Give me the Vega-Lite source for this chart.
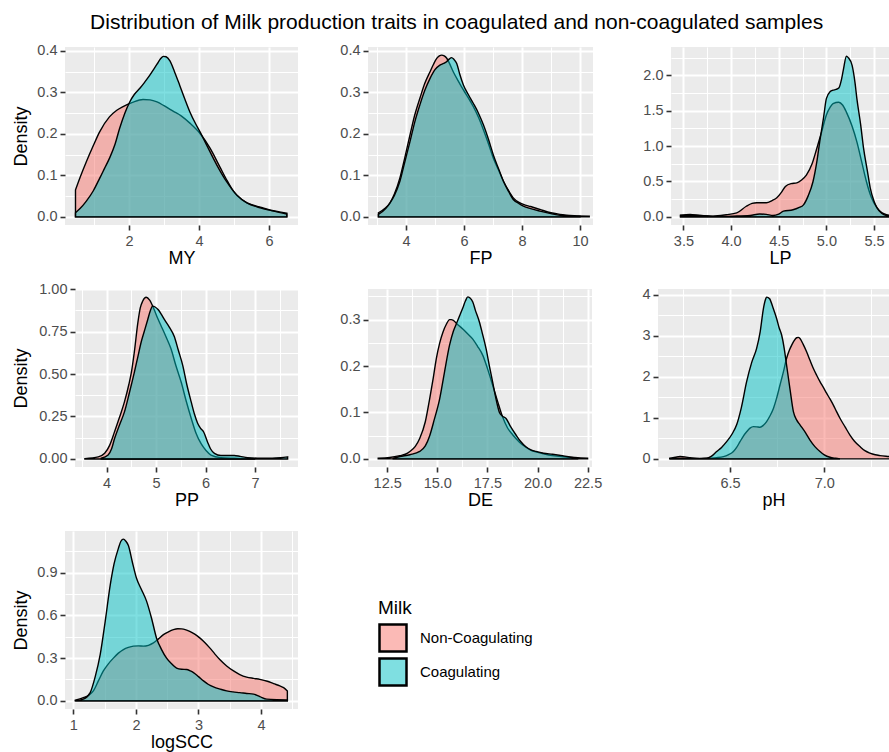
{
  "$schema": "https://vega.github.io/schema/vega-lite/v6.json",
  "padding": {"left": 12, "top": 11, "right": 0, "bottom": 0},
  "title": {"text": "Distribution of Milk production traits in coagulated and non-coagulated samples", "dx": 6},
  "datasets": {
    "dens": [
      {"trait":"MY","milk":"Non-Coagulating","x":0.47,"y":0.065},{"trait":"MY","milk":"Non-Coagulating","x":0.6,"y":0.095},{"trait":"MY","milk":"Non-Coagulating","x":0.78,"y":0.133},{"trait":"MY","milk":"Non-Coagulating","x":0.98,"y":0.172},{"trait":"MY","milk":"Non-Coagulating","x":1.16,"y":0.205},{"trait":"MY","milk":"Non-Coagulating","x":1.44,"y":0.241},{"trait":"MY","milk":"Non-Coagulating","x":1.65,"y":0.257},{"trait":"MY","milk":"Non-Coagulating","x":1.83,"y":0.266},{"trait":"MY","milk":"Non-Coagulating","x":2.1,"y":0.276},{"trait":"MY","milk":"Non-Coagulating","x":2.4,"y":0.283},{"trait":"MY","milk":"Non-Coagulating","x":2.6,"y":0.282},{"trait":"MY","milk":"Non-Coagulating","x":2.8,"y":0.277},{"trait":"MY","milk":"Non-Coagulating","x":3.0,"y":0.268},{"trait":"MY","milk":"Non-Coagulating","x":3.26,"y":0.255},{"trait":"MY","milk":"Non-Coagulating","x":3.5,"y":0.243},{"trait":"MY","milk":"Non-Coagulating","x":3.74,"y":0.226},{"trait":"MY","milk":"Non-Coagulating","x":4.03,"y":0.201},{"trait":"MY","milk":"Non-Coagulating","x":4.32,"y":0.165},{"trait":"MY","milk":"Non-Coagulating","x":4.6,"y":0.12},{"trait":"MY","milk":"Non-Coagulating","x":4.8,"y":0.088},{"trait":"MY","milk":"Non-Coagulating","x":4.99,"y":0.061},{"trait":"MY","milk":"Non-Coagulating","x":5.2,"y":0.043},{"trait":"MY","milk":"Non-Coagulating","x":5.37,"y":0.034},{"trait":"MY","milk":"Non-Coagulating","x":5.6,"y":0.027},{"trait":"MY","milk":"Non-Coagulating","x":5.85,"y":0.021},{"trait":"MY","milk":"Non-Coagulating","x":6.05,"y":0.016},{"trait":"MY","milk":"Non-Coagulating","x":6.3,"y":0.012},{"trait":"MY","milk":"Non-Coagulating","x":6.51,"y":0.009},
      {"trait":"MY","milk":"Coagulating","x":0.47,"y":0.01},{"trait":"MY","milk":"Coagulating","x":0.6,"y":0.02},{"trait":"MY","milk":"Coagulating","x":0.78,"y":0.038},{"trait":"MY","milk":"Coagulating","x":0.98,"y":0.063},{"trait":"MY","milk":"Coagulating","x":1.16,"y":0.093},{"trait":"MY","milk":"Coagulating","x":1.3,"y":0.117},{"trait":"MY","milk":"Coagulating","x":1.44,"y":0.141},{"trait":"MY","milk":"Coagulating","x":1.6,"y":0.175},{"trait":"MY","milk":"Coagulating","x":1.73,"y":0.213},{"trait":"MY","milk":"Coagulating","x":1.88,"y":0.25},{"trait":"MY","milk":"Coagulating","x":2.02,"y":0.277},{"trait":"MY","milk":"Coagulating","x":2.15,"y":0.295},{"trait":"MY","milk":"Coagulating","x":2.31,"y":0.31},{"trait":"MY","milk":"Coagulating","x":2.45,"y":0.325},{"trait":"MY","milk":"Coagulating","x":2.59,"y":0.341},{"trait":"MY","milk":"Coagulating","x":2.7,"y":0.355},{"trait":"MY","milk":"Coagulating","x":2.8,"y":0.368},{"trait":"MY","milk":"Coagulating","x":2.9,"y":0.381},{"trait":"MY","milk":"Coagulating","x":2.98,"y":0.387},{"trait":"MY","milk":"Coagulating","x":3.06,"y":0.386},{"trait":"MY","milk":"Coagulating","x":3.17,"y":0.376},{"trait":"MY","milk":"Coagulating","x":3.3,"y":0.35},{"trait":"MY","milk":"Coagulating","x":3.45,"y":0.317},{"trait":"MY","milk":"Coagulating","x":3.6,"y":0.283},{"trait":"MY","milk":"Coagulating","x":3.74,"y":0.253},{"trait":"MY","milk":"Coagulating","x":3.9,"y":0.225},{"trait":"MY","milk":"Coagulating","x":4.03,"y":0.205},{"trait":"MY","milk":"Coagulating","x":4.22,"y":0.173},{"trait":"MY","milk":"Coagulating","x":4.51,"y":0.125},{"trait":"MY","milk":"Coagulating","x":4.79,"y":0.085},{"trait":"MY","milk":"Coagulating","x":5.08,"y":0.053},{"trait":"MY","milk":"Coagulating","x":5.37,"y":0.034},{"trait":"MY","milk":"Coagulating","x":5.75,"y":0.022},{"trait":"MY","milk":"Coagulating","x":6.13,"y":0.014},{"trait":"MY","milk":"Coagulating","x":6.51,"y":0.007},

      {"trait":"FP","milk":"Non-Coagulating","x":3.05,"y":0.01},{"trait":"FP","milk":"Non-Coagulating","x":3.3,"y":0.022},{"trait":"FP","milk":"Non-Coagulating","x":3.45,"y":0.034},{"trait":"FP","milk":"Non-Coagulating","x":3.6,"y":0.055},{"trait":"FP","milk":"Non-Coagulating","x":3.79,"y":0.094},{"trait":"FP","milk":"Non-Coagulating","x":3.95,"y":0.14},{"trait":"FP","milk":"Non-Coagulating","x":4.14,"y":0.198},{"trait":"FP","milk":"Non-Coagulating","x":4.3,"y":0.245},{"trait":"FP","milk":"Non-Coagulating","x":4.48,"y":0.286},{"trait":"FP","milk":"Non-Coagulating","x":4.65,"y":0.322},{"trait":"FP","milk":"Non-Coagulating","x":4.83,"y":0.35},{"trait":"FP","milk":"Non-Coagulating","x":4.95,"y":0.368},{"trait":"FP","milk":"Non-Coagulating","x":5.06,"y":0.382},{"trait":"FP","milk":"Non-Coagulating","x":5.15,"y":0.388},{"trait":"FP","milk":"Non-Coagulating","x":5.23,"y":0.39},{"trait":"FP","milk":"Non-Coagulating","x":5.32,"y":0.388},{"trait":"FP","milk":"Non-Coagulating","x":5.4,"y":0.383},{"trait":"FP","milk":"Non-Coagulating","x":5.5,"y":0.37},{"trait":"FP","milk":"Non-Coagulating","x":5.63,"y":0.35},{"trait":"FP","milk":"Non-Coagulating","x":5.8,"y":0.328},{"trait":"FP","milk":"Non-Coagulating","x":5.98,"y":0.306},{"trait":"FP","milk":"Non-Coagulating","x":6.15,"y":0.287},{"trait":"FP","milk":"Non-Coagulating","x":6.32,"y":0.266},{"trait":"FP","milk":"Non-Coagulating","x":6.5,"y":0.24},{"trait":"FP","milk":"Non-Coagulating","x":6.67,"y":0.21},{"trait":"FP","milk":"Non-Coagulating","x":6.85,"y":0.175},{"trait":"FP","milk":"Non-Coagulating","x":7.01,"y":0.142},{"trait":"FP","milk":"Non-Coagulating","x":7.2,"y":0.112},{"trait":"FP","milk":"Non-Coagulating","x":7.36,"y":0.086},{"trait":"FP","milk":"Non-Coagulating","x":7.55,"y":0.062},{"trait":"FP","milk":"Non-Coagulating","x":7.7,"y":0.046},{"trait":"FP","milk":"Non-Coagulating","x":7.9,"y":0.035},{"trait":"FP","milk":"Non-Coagulating","x":8.05,"y":0.03},{"trait":"FP","milk":"Non-Coagulating","x":8.3,"y":0.025},{"trait":"FP","milk":"Non-Coagulating","x":8.62,"y":0.018},{"trait":"FP","milk":"Non-Coagulating","x":9.0,"y":0.01},{"trait":"FP","milk":"Non-Coagulating","x":9.31,"y":0.006},{"trait":"FP","milk":"Non-Coagulating","x":9.8,"y":0.003},{"trait":"FP","milk":"Non-Coagulating","x":10.32,"y":0.002},
      {"trait":"FP","milk":"Coagulating","x":3.05,"y":0.006},{"trait":"FP","milk":"Coagulating","x":3.3,"y":0.02},{"trait":"FP","milk":"Coagulating","x":3.45,"y":0.034},{"trait":"FP","milk":"Coagulating","x":3.6,"y":0.052},{"trait":"FP","milk":"Coagulating","x":3.79,"y":0.086},{"trait":"FP","milk":"Coagulating","x":3.95,"y":0.13},{"trait":"FP","milk":"Coagulating","x":4.14,"y":0.182},{"trait":"FP","milk":"Coagulating","x":4.3,"y":0.228},{"trait":"FP","milk":"Coagulating","x":4.48,"y":0.27},{"trait":"FP","milk":"Coagulating","x":4.65,"y":0.305},{"trait":"FP","milk":"Coagulating","x":4.83,"y":0.334},{"trait":"FP","milk":"Coagulating","x":5.0,"y":0.355},{"trait":"FP","milk":"Coagulating","x":5.17,"y":0.366},{"trait":"FP","milk":"Coagulating","x":5.3,"y":0.37},{"trait":"FP","milk":"Coagulating","x":5.4,"y":0.374},{"trait":"FP","milk":"Coagulating","x":5.5,"y":0.381},{"trait":"FP","milk":"Coagulating","x":5.57,"y":0.384},{"trait":"FP","milk":"Coagulating","x":5.65,"y":0.38},{"trait":"FP","milk":"Coagulating","x":5.75,"y":0.37},{"trait":"FP","milk":"Coagulating","x":5.85,"y":0.345},{"trait":"FP","milk":"Coagulating","x":5.98,"y":0.318},{"trait":"FP","milk":"Coagulating","x":6.15,"y":0.295},{"trait":"FP","milk":"Coagulating","x":6.32,"y":0.274},{"trait":"FP","milk":"Coagulating","x":6.5,"y":0.25},{"trait":"FP","milk":"Coagulating","x":6.67,"y":0.222},{"trait":"FP","milk":"Coagulating","x":6.85,"y":0.186},{"trait":"FP","milk":"Coagulating","x":7.01,"y":0.15},{"trait":"FP","milk":"Coagulating","x":7.2,"y":0.115},{"trait":"FP","milk":"Coagulating","x":7.36,"y":0.086},{"trait":"FP","milk":"Coagulating","x":7.55,"y":0.06},{"trait":"FP","milk":"Coagulating","x":7.7,"y":0.042},{"trait":"FP","milk":"Coagulating","x":7.9,"y":0.032},{"trait":"FP","milk":"Coagulating","x":8.05,"y":0.026},{"trait":"FP","milk":"Coagulating","x":8.3,"y":0.02},{"trait":"FP","milk":"Coagulating","x":8.62,"y":0.014},{"trait":"FP","milk":"Coagulating","x":9.0,"y":0.008},{"trait":"FP","milk":"Coagulating","x":9.31,"y":0.004},{"trait":"FP","milk":"Coagulating","x":10.0,"y":0.002},

      {"trait":"LP","milk":"Non-Coagulating","x":3.47,"y":0.023},{"trait":"LP","milk":"Non-Coagulating","x":3.57,"y":0.033},{"trait":"LP","milk":"Non-Coagulating","x":3.67,"y":0.02},{"trait":"LP","milk":"Non-Coagulating","x":3.81,"y":0.01},{"trait":"LP","milk":"Non-Coagulating","x":3.95,"y":0.03},{"trait":"LP","milk":"Non-Coagulating","x":4.06,"y":0.056},{"trait":"LP","milk":"Non-Coagulating","x":4.16,"y":0.15},{"trait":"LP","milk":"Non-Coagulating","x":4.22,"y":0.19},{"trait":"LP","milk":"Non-Coagulating","x":4.27,"y":0.2},{"trait":"LP","milk":"Non-Coagulating","x":4.37,"y":0.2},{"trait":"LP","milk":"Non-Coagulating","x":4.43,"y":0.23},{"trait":"LP","milk":"Non-Coagulating","x":4.48,"y":0.27},{"trait":"LP","milk":"Non-Coagulating","x":4.53,"y":0.35},{"trait":"LP","milk":"Non-Coagulating","x":4.57,"y":0.43},{"trait":"LP","milk":"Non-Coagulating","x":4.63,"y":0.47},{"trait":"LP","milk":"Non-Coagulating","x":4.69,"y":0.48},{"trait":"LP","milk":"Non-Coagulating","x":4.74,"y":0.52},{"trait":"LP","milk":"Non-Coagulating","x":4.79,"y":0.59},{"trait":"LP","milk":"Non-Coagulating","x":4.85,"y":0.75},{"trait":"LP","milk":"Non-Coagulating","x":4.9,"y":0.97},{"trait":"LP","milk":"Non-Coagulating","x":4.95,"y":1.2},{"trait":"LP","milk":"Non-Coagulating","x":5.0,"y":1.44},{"trait":"LP","milk":"Non-Coagulating","x":5.04,"y":1.55},{"trait":"LP","milk":"Non-Coagulating","x":5.07,"y":1.6},{"trait":"LP","milk":"Non-Coagulating","x":5.13,"y":1.62},{"trait":"LP","milk":"Non-Coagulating","x":5.17,"y":1.58},{"trait":"LP","milk":"Non-Coagulating","x":5.21,"y":1.48},{"trait":"LP","milk":"Non-Coagulating","x":5.27,"y":1.28},{"trait":"LP","milk":"Non-Coagulating","x":5.32,"y":1.06},{"trait":"LP","milk":"Non-Coagulating","x":5.37,"y":0.78},{"trait":"LP","milk":"Non-Coagulating","x":5.42,"y":0.5},{"trait":"LP","milk":"Non-Coagulating","x":5.47,"y":0.28},{"trait":"LP","milk":"Non-Coagulating","x":5.53,"y":0.13},{"trait":"LP","milk":"Non-Coagulating","x":5.58,"y":0.06},{"trait":"LP","milk":"Non-Coagulating","x":5.63,"y":0.03},{"trait":"LP","milk":"Non-Coagulating","x":5.74,"y":0.01},
      {"trait":"LP","milk":"Coagulating","x":3.47,"y":0.02},{"trait":"LP","milk":"Coagulating","x":3.67,"y":0.02},{"trait":"LP","milk":"Coagulating","x":3.85,"y":0.005},{"trait":"LP","milk":"Coagulating","x":4.02,"y":0.01},{"trait":"LP","milk":"Coagulating","x":4.2,"y":0.02},{"trait":"LP","milk":"Coagulating","x":4.3,"y":0.04},{"trait":"LP","milk":"Coagulating","x":4.37,"y":0.035},{"trait":"LP","milk":"Coagulating","x":4.44,"y":0.02},{"trait":"LP","milk":"Coagulating","x":4.5,"y":0.04},{"trait":"LP","milk":"Coagulating","x":4.55,"y":0.08},{"trait":"LP","milk":"Coagulating","x":4.65,"y":0.1},{"trait":"LP","milk":"Coagulating","x":4.71,"y":0.13},{"trait":"LP","milk":"Coagulating","x":4.76,"y":0.17},{"trait":"LP","milk":"Coagulating","x":4.81,"y":0.3},{"trait":"LP","milk":"Coagulating","x":4.86,"y":0.5},{"trait":"LP","milk":"Coagulating","x":4.9,"y":0.78},{"trait":"LP","milk":"Coagulating","x":4.93,"y":1.06},{"trait":"LP","milk":"Coagulating","x":4.97,"y":1.4},{"trait":"LP","milk":"Coagulating","x":5.0,"y":1.67},{"trait":"LP","milk":"Coagulating","x":5.04,"y":1.77},{"trait":"LP","milk":"Coagulating","x":5.07,"y":1.79},{"trait":"LP","milk":"Coagulating","x":5.1,"y":1.8},{"trait":"LP","milk":"Coagulating","x":5.13,"y":1.82},{"trait":"LP","milk":"Coagulating","x":5.16,"y":1.95},{"trait":"LP","milk":"Coagulating","x":5.18,"y":2.09},{"trait":"LP","milk":"Coagulating","x":5.21,"y":2.27},{"trait":"LP","milk":"Coagulating","x":5.23,"y":2.25},{"trait":"LP","milk":"Coagulating","x":5.27,"y":2.14},{"trait":"LP","milk":"Coagulating","x":5.3,"y":1.9},{"trait":"LP","milk":"Coagulating","x":5.32,"y":1.67},{"trait":"LP","milk":"Coagulating","x":5.36,"y":1.3},{"trait":"LP","milk":"Coagulating","x":5.39,"y":0.97},{"trait":"LP","milk":"Coagulating","x":5.43,"y":0.65},{"trait":"LP","milk":"Coagulating","x":5.46,"y":0.41},{"trait":"LP","milk":"Coagulating","x":5.5,"y":0.22},{"trait":"LP","milk":"Coagulating","x":5.53,"y":0.13},{"trait":"LP","milk":"Coagulating","x":5.58,"y":0.05},{"trait":"LP","milk":"Coagulating","x":5.63,"y":0.02},{"trait":"LP","milk":"Coagulating","x":5.74,"y":0.005},

      {"trait":"PP","milk":"Non-Coagulating","x":3.56,"y":0.002},{"trait":"PP","milk":"Non-Coagulating","x":3.83,"y":0.012},{"trait":"PP","milk":"Non-Coagulating","x":3.96,"y":0.033},{"trait":"PP","milk":"Non-Coagulating","x":4.06,"y":0.08},{"trait":"PP","milk":"Non-Coagulating","x":4.16,"y":0.16},{"trait":"PP","milk":"Non-Coagulating","x":4.26,"y":0.245},{"trait":"PP","milk":"Non-Coagulating","x":4.36,"y":0.336},{"trait":"PP","milk":"Non-Coagulating","x":4.45,"y":0.44},{"trait":"PP","milk":"Non-Coagulating","x":4.5,"y":0.51},{"trait":"PP","milk":"Non-Coagulating","x":4.56,"y":0.63},{"trait":"PP","milk":"Non-Coagulating","x":4.63,"y":0.8},{"trait":"PP","milk":"Non-Coagulating","x":4.68,"y":0.89},{"trait":"PP","milk":"Non-Coagulating","x":4.73,"y":0.93},{"trait":"PP","milk":"Non-Coagulating","x":4.8,"y":0.952},{"trait":"PP","milk":"Non-Coagulating","x":4.87,"y":0.935},{"trait":"PP","milk":"Non-Coagulating","x":4.96,"y":0.88},{"trait":"PP","milk":"Non-Coagulating","x":5.03,"y":0.83},{"trait":"PP","milk":"Non-Coagulating","x":5.1,"y":0.785},{"trait":"PP","milk":"Non-Coagulating","x":5.2,"y":0.72},{"trait":"PP","milk":"Non-Coagulating","x":5.3,"y":0.65},{"trait":"PP","milk":"Non-Coagulating","x":5.4,"y":0.55},{"trait":"PP","milk":"Non-Coagulating","x":5.51,"y":0.45},{"trait":"PP","milk":"Non-Coagulating","x":5.61,"y":0.34},{"trait":"PP","milk":"Non-Coagulating","x":5.71,"y":0.24},{"trait":"PP","milk":"Non-Coagulating","x":5.81,"y":0.15},{"trait":"PP","milk":"Non-Coagulating","x":5.91,"y":0.09},{"trait":"PP","milk":"Non-Coagulating","x":6.01,"y":0.05},{"trait":"PP","milk":"Non-Coagulating","x":6.11,"y":0.023},{"trait":"PP","milk":"Non-Coagulating","x":6.31,"y":0.008},{"trait":"PP","milk":"Non-Coagulating","x":6.58,"y":0.004},{"trait":"PP","milk":"Non-Coagulating","x":6.99,"y":0.001},
      {"trait":"PP","milk":"Coagulating","x":3.89,"y":0.004},{"trait":"PP","milk":"Coagulating","x":4.03,"y":0.023},{"trait":"PP","milk":"Coagulating","x":4.1,"y":0.06},{"trait":"PP","milk":"Coagulating","x":4.16,"y":0.12},{"trait":"PP","milk":"Coagulating","x":4.26,"y":0.2},{"trait":"PP","milk":"Coagulating","x":4.36,"y":0.277},{"trait":"PP","milk":"Coagulating","x":4.46,"y":0.39},{"trait":"PP","milk":"Coagulating","x":4.56,"y":0.51},{"trait":"PP","milk":"Coagulating","x":4.63,"y":0.6},{"trait":"PP","milk":"Coagulating","x":4.7,"y":0.69},{"trait":"PP","milk":"Coagulating","x":4.77,"y":0.76},{"trait":"PP","milk":"Coagulating","x":4.83,"y":0.82},{"trait":"PP","milk":"Coagulating","x":4.88,"y":0.87},{"trait":"PP","milk":"Coagulating","x":4.93,"y":0.9},{"trait":"PP","milk":"Coagulating","x":4.98,"y":0.895},{"trait":"PP","milk":"Coagulating","x":5.04,"y":0.88},{"trait":"PP","milk":"Coagulating","x":5.1,"y":0.855},{"trait":"PP","milk":"Coagulating","x":5.17,"y":0.82},{"trait":"PP","milk":"Coagulating","x":5.27,"y":0.775},{"trait":"PP","milk":"Coagulating","x":5.37,"y":0.72},{"trait":"PP","milk":"Coagulating","x":5.45,"y":0.64},{"trait":"PP","milk":"Coagulating","x":5.54,"y":0.55},{"trait":"PP","milk":"Coagulating","x":5.62,"y":0.44},{"trait":"PP","milk":"Coagulating","x":5.71,"y":0.336},{"trait":"PP","milk":"Coagulating","x":5.78,"y":0.26},{"trait":"PP","milk":"Coagulating","x":5.84,"y":0.21},{"trait":"PP","milk":"Coagulating","x":5.9,"y":0.18},{"trait":"PP","milk":"Coagulating","x":5.96,"y":0.16},{"trait":"PP","milk":"Coagulating","x":6.04,"y":0.1},{"trait":"PP","milk":"Coagulating","x":6.1,"y":0.06},{"trait":"PP","milk":"Coagulating","x":6.18,"y":0.033},{"trait":"PP","milk":"Coagulating","x":6.31,"y":0.02},{"trait":"PP","milk":"Coagulating","x":6.45,"y":0.02},{"trait":"PP","milk":"Coagulating","x":6.58,"y":0.02},{"trait":"PP","milk":"Coagulating","x":6.7,"y":0.015},{"trait":"PP","milk":"Coagulating","x":6.85,"y":0.008},{"trait":"PP","milk":"Coagulating","x":7.12,"y":0.004},{"trait":"PP","milk":"Coagulating","x":7.35,"y":0.005},{"trait":"PP","milk":"Coagulating","x":7.52,"y":0.008},{"trait":"PP","milk":"Coagulating","x":7.66,"y":0.012},

      {"trait":"DE","milk":"Non-Coagulating","x":12.05,"y":0.0014},{"trait":"DE","milk":"Non-Coagulating","x":12.63,"y":0.003},{"trait":"DE","milk":"Non-Coagulating","x":13.13,"y":0.007},{"trait":"DE","milk":"Non-Coagulating","x":13.4,"y":0.01},{"trait":"DE","milk":"Non-Coagulating","x":13.63,"y":0.016},{"trait":"DE","milk":"Non-Coagulating","x":13.9,"y":0.027},{"trait":"DE","milk":"Non-Coagulating","x":14.12,"y":0.044},{"trait":"DE","milk":"Non-Coagulating","x":14.4,"y":0.08},{"trait":"DE","milk":"Non-Coagulating","x":14.62,"y":0.13},{"trait":"DE","milk":"Non-Coagulating","x":14.8,"y":0.175},{"trait":"DE","milk":"Non-Coagulating","x":14.95,"y":0.216},{"trait":"DE","milk":"Non-Coagulating","x":15.12,"y":0.25},{"trait":"DE","milk":"Non-Coagulating","x":15.28,"y":0.273},{"trait":"DE","milk":"Non-Coagulating","x":15.45,"y":0.29},{"trait":"DE","milk":"Non-Coagulating","x":15.61,"y":0.3},{"trait":"DE","milk":"Non-Coagulating","x":15.7,"y":0.3},{"trait":"DE","milk":"Non-Coagulating","x":15.78,"y":0.299},{"trait":"DE","milk":"Non-Coagulating","x":16.0,"y":0.29},{"trait":"DE","milk":"Non-Coagulating","x":16.27,"y":0.28},{"trait":"DE","milk":"Non-Coagulating","x":16.5,"y":0.27},{"trait":"DE","milk":"Non-Coagulating","x":16.77,"y":0.258},{"trait":"DE","milk":"Non-Coagulating","x":17.0,"y":0.243},{"trait":"DE","milk":"Non-Coagulating","x":17.27,"y":0.223},{"trait":"DE","milk":"Non-Coagulating","x":17.5,"y":0.195},{"trait":"DE","milk":"Non-Coagulating","x":17.76,"y":0.159},{"trait":"DE","milk":"Non-Coagulating","x":18.0,"y":0.125},{"trait":"DE","milk":"Non-Coagulating","x":18.26,"y":0.09},{"trait":"DE","milk":"Non-Coagulating","x":18.5,"y":0.067},{"trait":"DE","milk":"Non-Coagulating","x":18.76,"y":0.052},{"trait":"DE","milk":"Non-Coagulating","x":19.1,"y":0.036},{"trait":"DE","milk":"Non-Coagulating","x":19.42,"y":0.025},{"trait":"DE","milk":"Non-Coagulating","x":19.7,"y":0.018},{"trait":"DE","milk":"Non-Coagulating","x":19.92,"y":0.015},{"trait":"DE","milk":"Non-Coagulating","x":20.3,"y":0.011},{"trait":"DE","milk":"Non-Coagulating","x":20.75,"y":0.007},{"trait":"DE","milk":"Non-Coagulating","x":21.41,"y":0.004},{"trait":"DE","milk":"Non-Coagulating","x":22.5,"y":0.0014},
      {"trait":"DE","milk":"Coagulating","x":12.8,"y":0.0014},{"trait":"DE","milk":"Coagulating","x":13.13,"y":0.005},{"trait":"DE","milk":"Coagulating","x":13.63,"y":0.009},{"trait":"DE","milk":"Coagulating","x":14.12,"y":0.016},{"trait":"DE","milk":"Coagulating","x":14.4,"y":0.028},{"trait":"DE","milk":"Coagulating","x":14.62,"y":0.05},{"trait":"DE","milk":"Coagulating","x":14.85,"y":0.085},{"trait":"DE","milk":"Coagulating","x":15.12,"y":0.13},{"trait":"DE","milk":"Coagulating","x":15.35,"y":0.185},{"trait":"DE","milk":"Coagulating","x":15.61,"y":0.245},{"trait":"DE","milk":"Coagulating","x":15.8,"y":0.275},{"trait":"DE","milk":"Coagulating","x":15.94,"y":0.29},{"trait":"DE","milk":"Coagulating","x":16.1,"y":0.307},{"trait":"DE","milk":"Coagulating","x":16.27,"y":0.325},{"trait":"DE","milk":"Coagulating","x":16.4,"y":0.34},{"trait":"DE","milk":"Coagulating","x":16.52,"y":0.349},{"trait":"DE","milk":"Coagulating","x":16.62,"y":0.347},{"trait":"DE","milk":"Coagulating","x":16.77,"y":0.338},{"trait":"DE","milk":"Coagulating","x":16.9,"y":0.32},{"trait":"DE","milk":"Coagulating","x":17.1,"y":0.295},{"trait":"DE","milk":"Coagulating","x":17.25,"y":0.27},{"trait":"DE","milk":"Coagulating","x":17.43,"y":0.238},{"trait":"DE","milk":"Coagulating","x":17.6,"y":0.2},{"trait":"DE","milk":"Coagulating","x":17.76,"y":0.166},{"trait":"DE","milk":"Coagulating","x":17.9,"y":0.135},{"trait":"DE","milk":"Coagulating","x":18.1,"y":0.1},{"trait":"DE","milk":"Coagulating","x":18.25,"y":0.092},{"trait":"DE","milk":"Coagulating","x":18.43,"y":0.087},{"trait":"DE","milk":"Coagulating","x":18.65,"y":0.07},{"trait":"DE","milk":"Coagulating","x":18.92,"y":0.052},{"trait":"DE","milk":"Coagulating","x":19.15,"y":0.038},{"trait":"DE","milk":"Coagulating","x":19.42,"y":0.026},{"trait":"DE","milk":"Coagulating","x":19.7,"y":0.019},{"trait":"DE","milk":"Coagulating","x":19.92,"y":0.016},{"trait":"DE","milk":"Coagulating","x":20.3,"y":0.012},{"trait":"DE","milk":"Coagulating","x":20.75,"y":0.01},{"trait":"DE","milk":"Coagulating","x":21.24,"y":0.007},{"trait":"DE","milk":"Coagulating","x":21.74,"y":0.003},{"trait":"DE","milk":"Coagulating","x":22.0,"y":0.001},

      {"trait":"pH","milk":"Non-Coagulating","x":6.18,"y":0.016},{"trait":"pH","milk":"Non-Coagulating","x":6.21,"y":0.04},{"trait":"pH","milk":"Non-Coagulating","x":6.235,"y":0.057},{"trait":"pH","milk":"Non-Coagulating","x":6.26,"y":0.05},{"trait":"pH","milk":"Non-Coagulating","x":6.288,"y":0.03},{"trait":"pH","milk":"Non-Coagulating","x":6.34,"y":0.005},{"trait":"pH","milk":"Non-Coagulating","x":6.394,"y":0.016},{"trait":"pH","milk":"Non-Coagulating","x":6.43,"y":0.03},{"trait":"pH","milk":"Non-Coagulating","x":6.465,"y":0.057},{"trait":"pH","milk":"Non-Coagulating","x":6.49,"y":0.1},{"trait":"pH","milk":"Non-Coagulating","x":6.518,"y":0.18},{"trait":"pH","milk":"Non-Coagulating","x":6.535,"y":0.28},{"trait":"pH","milk":"Non-Coagulating","x":6.553,"y":0.42},{"trait":"pH","milk":"Non-Coagulating","x":6.57,"y":0.55},{"trait":"pH","milk":"Non-Coagulating","x":6.588,"y":0.66},{"trait":"pH","milk":"Non-Coagulating","x":6.606,"y":0.75},{"trait":"pH","milk":"Non-Coagulating","x":6.624,"y":0.785},{"trait":"pH","milk":"Non-Coagulating","x":6.642,"y":0.78},{"trait":"pH","milk":"Non-Coagulating","x":6.659,"y":0.77},{"trait":"pH","milk":"Non-Coagulating","x":6.677,"y":0.82},{"trait":"pH","milk":"Non-Coagulating","x":6.694,"y":0.91},{"trait":"pH","milk":"Non-Coagulating","x":6.712,"y":1.05},{"trait":"pH","milk":"Non-Coagulating","x":6.73,"y":1.23},{"trait":"pH","milk":"Non-Coagulating","x":6.747,"y":1.48},{"trait":"pH","milk":"Non-Coagulating","x":6.765,"y":1.8},{"trait":"pH","milk":"Non-Coagulating","x":6.783,"y":2.12},{"trait":"pH","milk":"Non-Coagulating","x":6.8,"y":2.45},{"trait":"pH","milk":"Non-Coagulating","x":6.815,"y":2.65},{"trait":"pH","milk":"Non-Coagulating","x":6.827,"y":2.77},{"trait":"pH","milk":"Non-Coagulating","x":6.84,"y":2.88},{"trait":"pH","milk":"Non-Coagulating","x":6.853,"y":2.95},{"trait":"pH","milk":"Non-Coagulating","x":6.862,"y":2.96},{"trait":"pH","milk":"Non-Coagulating","x":6.871,"y":2.93},{"trait":"pH","milk":"Non-Coagulating","x":6.888,"y":2.79},{"trait":"pH","milk":"Non-Coagulating","x":6.906,"y":2.61},{"trait":"pH","milk":"Non-Coagulating","x":6.924,"y":2.4},{"trait":"pH","milk":"Non-Coagulating","x":6.942,"y":2.2},{"trait":"pH","milk":"Non-Coagulating","x":6.96,"y":2.03},{"trait":"pH","milk":"Non-Coagulating","x":6.977,"y":1.88},{"trait":"pH","milk":"Non-Coagulating","x":6.995,"y":1.74},{"trait":"pH","milk":"Non-Coagulating","x":7.012,"y":1.6},{"trait":"pH","milk":"Non-Coagulating","x":7.03,"y":1.46},{"trait":"pH","milk":"Non-Coagulating","x":7.048,"y":1.31},{"trait":"pH","milk":"Non-Coagulating","x":7.065,"y":1.15},{"trait":"pH","milk":"Non-Coagulating","x":7.083,"y":0.99},{"trait":"pH","milk":"Non-Coagulating","x":7.11,"y":0.78},{"trait":"pH","milk":"Non-Coagulating","x":7.136,"y":0.58},{"trait":"pH","milk":"Non-Coagulating","x":7.16,"y":0.43},{"trait":"pH","milk":"Non-Coagulating","x":7.189,"y":0.3},{"trait":"pH","milk":"Non-Coagulating","x":7.215,"y":0.2},{"trait":"pH","milk":"Non-Coagulating","x":7.242,"y":0.14},{"trait":"pH","milk":"Non-Coagulating","x":7.27,"y":0.1},{"trait":"pH","milk":"Non-Coagulating","x":7.295,"y":0.08},{"trait":"pH","milk":"Non-Coagulating","x":7.343,"y":0.057},{"trait":"pH","milk":"Non-Coagulating","x":7.4,"y":0.03},{"trait":"pH","milk":"Non-Coagulating","x":7.45,"y":0.01},
      {"trait":"pH","milk":"Coagulating","x":6.18,"y":0.0},{"trait":"pH","milk":"Coagulating","x":6.25,"y":0.016},{"trait":"pH","milk":"Coagulating","x":6.32,"y":0.01},{"trait":"pH","milk":"Coagulating","x":6.376,"y":0.016},{"trait":"pH","milk":"Coagulating","x":6.4,"y":0.06},{"trait":"pH","milk":"Coagulating","x":6.429,"y":0.18},{"trait":"pH","milk":"Coagulating","x":6.455,"y":0.28},{"trait":"pH","milk":"Coagulating","x":6.482,"y":0.42},{"trait":"pH","milk":"Coagulating","x":6.51,"y":0.6},{"trait":"pH","milk":"Coagulating","x":6.535,"y":0.83},{"trait":"pH","milk":"Coagulating","x":6.56,"y":1.25},{"trait":"pH","milk":"Coagulating","x":6.588,"y":1.88},{"trait":"pH","milk":"Coagulating","x":6.615,"y":2.35},{"trait":"pH","milk":"Coagulating","x":6.641,"y":2.69},{"trait":"pH","milk":"Coagulating","x":6.66,"y":3.1},{"trait":"pH","milk":"Coagulating","x":6.677,"y":3.66},{"trait":"pH","milk":"Coagulating","x":6.688,"y":3.88},{"trait":"pH","milk":"Coagulating","x":6.694,"y":3.94},{"trait":"pH","milk":"Coagulating","x":6.702,"y":3.93},{"trait":"pH","milk":"Coagulating","x":6.71,"y":3.9},{"trait":"pH","milk":"Coagulating","x":6.728,"y":3.68},{"trait":"pH","milk":"Coagulating","x":6.747,"y":3.42},{"trait":"pH","milk":"Coagulating","x":6.76,"y":3.2},{"trait":"pH","milk":"Coagulating","x":6.774,"y":3.01},{"trait":"pH","milk":"Coagulating","x":6.787,"y":2.7},{"trait":"pH","milk":"Coagulating","x":6.8,"y":2.28},{"trait":"pH","milk":"Coagulating","x":6.818,"y":1.7},{"trait":"pH","milk":"Coagulating","x":6.836,"y":1.15},{"trait":"pH","milk":"Coagulating","x":6.853,"y":0.95},{"trait":"pH","milk":"Coagulating","x":6.871,"y":0.83},{"trait":"pH","milk":"Coagulating","x":6.9,"y":0.64},{"trait":"pH","milk":"Coagulating","x":6.924,"y":0.46},{"trait":"pH","milk":"Coagulating","x":6.95,"y":0.3},{"trait":"pH","milk":"Coagulating","x":6.977,"y":0.18},{"trait":"pH","milk":"Coagulating","x":7.0,"y":0.1},{"trait":"pH","milk":"Coagulating","x":7.03,"y":0.04},{"trait":"pH","milk":"Coagulating","x":7.06,"y":0.015},{"trait":"pH","milk":"Coagulating","x":7.083,"y":0.0},

      {"trait":"logSCC","milk":"Non-Coagulating","x":1.03,"y":0.005},{"trait":"logSCC","milk":"Non-Coagulating","x":1.16,"y":0.023},{"trait":"logSCC","milk":"Non-Coagulating","x":1.25,"y":0.04},{"trait":"logSCC","milk":"Non-Coagulating","x":1.32,"y":0.07},{"trait":"logSCC","milk":"Non-Coagulating","x":1.4,"y":0.14},{"trait":"logSCC","milk":"Non-Coagulating","x":1.48,"y":0.21},{"trait":"logSCC","milk":"Non-Coagulating","x":1.56,"y":0.26},{"trait":"logSCC","milk":"Non-Coagulating","x":1.64,"y":0.3},{"trait":"logSCC","milk":"Non-Coagulating","x":1.72,"y":0.335},{"trait":"logSCC","milk":"Non-Coagulating","x":1.8,"y":0.36},{"trait":"logSCC","milk":"Non-Coagulating","x":1.88,"y":0.375},{"trait":"logSCC","milk":"Non-Coagulating","x":1.96,"y":0.384},{"trait":"logSCC","milk":"Non-Coagulating","x":2.04,"y":0.386},{"trait":"logSCC","milk":"Non-Coagulating","x":2.12,"y":0.384},{"trait":"logSCC","milk":"Non-Coagulating","x":2.2,"y":0.39},{"trait":"logSCC","milk":"Non-Coagulating","x":2.28,"y":0.407},{"trait":"logSCC","milk":"Non-Coagulating","x":2.36,"y":0.435},{"trait":"logSCC","milk":"Non-Coagulating","x":2.44,"y":0.465},{"trait":"logSCC","milk":"Non-Coagulating","x":2.52,"y":0.485},{"trait":"logSCC","milk":"Non-Coagulating","x":2.6,"y":0.5},{"trait":"logSCC","milk":"Non-Coagulating","x":2.67,"y":0.506},{"trait":"logSCC","milk":"Non-Coagulating","x":2.73,"y":0.505},{"trait":"logSCC","milk":"Non-Coagulating","x":2.8,"y":0.498},{"trait":"logSCC","milk":"Non-Coagulating","x":2.86,"y":0.488},{"trait":"logSCC","milk":"Non-Coagulating","x":2.94,"y":0.468},{"trait":"logSCC","milk":"Non-Coagulating","x":3.02,"y":0.442},{"trait":"logSCC","milk":"Non-Coagulating","x":3.1,"y":0.41},{"trait":"logSCC","milk":"Non-Coagulating","x":3.18,"y":0.372},{"trait":"logSCC","milk":"Non-Coagulating","x":3.26,"y":0.33},{"trait":"logSCC","milk":"Non-Coagulating","x":3.34,"y":0.29},{"trait":"logSCC","milk":"Non-Coagulating","x":3.45,"y":0.245},{"trait":"logSCC","milk":"Non-Coagulating","x":3.56,"y":0.21},{"trait":"logSCC","milk":"Non-Coagulating","x":3.66,"y":0.185},{"trait":"logSCC","milk":"Non-Coagulating","x":3.77,"y":0.167},{"trait":"logSCC","milk":"Non-Coagulating","x":3.88,"y":0.158},{"trait":"logSCC","milk":"Non-Coagulating","x":3.98,"y":0.151},{"trait":"logSCC","milk":"Non-Coagulating","x":4.1,"y":0.138},{"trait":"logSCC","milk":"Non-Coagulating","x":4.2,"y":0.121},{"trait":"logSCC","milk":"Non-Coagulating","x":4.3,"y":0.105},{"trait":"logSCC","milk":"Non-Coagulating","x":4.36,"y":0.093},{"trait":"logSCC","milk":"Non-Coagulating","x":4.42,"y":0.07},
      {"trait":"logSCC","milk":"Coagulating","x":1.03,"y":0.0},{"trait":"logSCC","milk":"Coagulating","x":1.16,"y":0.012},{"trait":"logSCC","milk":"Coagulating","x":1.27,"y":0.058},{"trait":"logSCC","milk":"Coagulating","x":1.35,"y":0.17},{"trait":"logSCC","milk":"Coagulating","x":1.43,"y":0.326},{"trait":"logSCC","milk":"Coagulating","x":1.51,"y":0.56},{"trait":"logSCC","milk":"Coagulating","x":1.59,"y":0.814},{"trait":"logSCC","milk":"Coagulating","x":1.65,"y":0.96},{"trait":"logSCC","milk":"Coagulating","x":1.72,"y":1.07},{"trait":"logSCC","milk":"Coagulating","x":1.76,"y":1.12},{"trait":"logSCC","milk":"Coagulating","x":1.8,"y":1.135},{"trait":"logSCC","milk":"Coagulating","x":1.84,"y":1.12},{"trait":"logSCC","milk":"Coagulating","x":1.88,"y":1.09},{"trait":"logSCC","milk":"Coagulating","x":1.94,"y":0.98},{"trait":"logSCC","milk":"Coagulating","x":2.01,"y":0.86},{"trait":"logSCC","milk":"Coagulating","x":2.09,"y":0.78},{"trait":"logSCC","milk":"Coagulating","x":2.17,"y":0.7},{"trait":"logSCC","milk":"Coagulating","x":2.25,"y":0.58},{"trait":"logSCC","milk":"Coagulating","x":2.33,"y":0.44},{"trait":"logSCC","milk":"Coagulating","x":2.41,"y":0.36},{"trait":"logSCC","milk":"Coagulating","x":2.49,"y":0.3},{"trait":"logSCC","milk":"Coagulating","x":2.57,"y":0.26},{"trait":"logSCC","milk":"Coagulating","x":2.65,"y":0.23},{"trait":"logSCC","milk":"Coagulating","x":2.73,"y":0.222},{"trait":"logSCC","milk":"Coagulating","x":2.81,"y":0.22},{"trait":"logSCC","milk":"Coagulating","x":2.87,"y":0.21},{"trait":"logSCC","milk":"Coagulating","x":2.92,"y":0.198},{"trait":"logSCC","milk":"Coagulating","x":3.0,"y":0.17},{"trait":"logSCC","milk":"Coagulating","x":3.08,"y":0.14},{"trait":"logSCC","milk":"Coagulating","x":3.16,"y":0.115},{"trait":"logSCC","milk":"Coagulating","x":3.24,"y":0.098},{"trait":"logSCC","milk":"Coagulating","x":3.35,"y":0.082},{"trait":"logSCC","milk":"Coagulating","x":3.45,"y":0.07},{"trait":"logSCC","milk":"Coagulating","x":3.55,"y":0.063},{"trait":"logSCC","milk":"Coagulating","x":3.66,"y":0.058},{"trait":"logSCC","milk":"Coagulating","x":3.77,"y":0.052},{"trait":"logSCC","milk":"Coagulating","x":3.88,"y":0.047},{"trait":"logSCC","milk":"Coagulating","x":3.98,"y":0.03},{"trait":"logSCC","milk":"Coagulating","x":4.09,"y":0.012},{"trait":"logSCC","milk":"Coagulating","x":4.25,"y":0.008},{"trait":"logSCC","milk":"Coagulating","x":4.42,"y":0.007}
    ]
  },
  "vconcat": [
    {
      "bounds": "flush",
      "spacing": 0,
      "hconcat": [
        {
          "width": 233, "height": 178,
          "data": {"name": "dens"},
          "transform": [{"filter": "datum.trait == 'MY'"}],
          "mark": {"type": "area", "stroke": "black", "strokeWidth": 1.4, "fillOpacity": 0.5, "interpolate": "monotone", "clip": true},
          "encoding": {
            "x": {"field": "x", "type": "quantitative", "title": "MY", "scale": {"domain": [0.17, 6.83], "nice": false, "zero": false},
                  "axis": {"values": [1,2,3,4,5,6], "labelExpr": "datum.value % 2 == 0 ? format(datum.value, 'd') : ''",
                           "tickOpacity": {"condition": {"test": "datum.value % 2 == 0", "value": 1}, "value": 0},
                           "gridWidth": {"condition": {"test": "datum.value % 2 == 0", "value": 2}, "value": 1}}},
            "y": {"field": "y", "type": "quantitative", "stack": null, "title": "Density", "scale": {"domain": [-0.0195, 0.4095], "nice": false, "zero": false},
                  "axis": {"values": [0,0.05,0.1,0.15,0.2,0.25,0.3,0.35,0.4], "titleX": -38.8, "titleBaseline": "alphabetic",
                           "labelExpr": "round(datum.value*20) % 2 == 0 ? format(datum.value, '.1f') : ''",
                           "tickOpacity": {"condition": {"test": "round(datum.value*20) % 2 == 0", "value": 1}, "value": 0},
                           "gridWidth": {"condition": {"test": "round(datum.value*20) % 2 == 0", "value": 2}, "value": 1}}},
            "color": {"field": "milk", "type": "nominal", "title": "Milk", "scale": {"domain": ["Non-Coagulating", "Coagulating"], "range": ["#F8766D", "#00BFC4"]},
                      "legend": {"orient": "none", "legendX": 313, "legendY": 552, "symbolType": "square", "symbolSize": 729, "symbolStrokeColor": "black", "symbolStrokeWidth": 2.5, "labelOffset": 12, "rowPadding": -10, "titlePadding": 5,
                                 "encode": {"symbols": {"update": {"fillOpacity": {"value": 0.5}, "opacity": {"value": 1}, "strokeOpacity": {"value": 1}, "stroke": {"value": "black"}}}}}}
          }
        },
        {"width": 70, "height": 1, "view": {"fill": "transparent", "stroke": "transparent"}, "data": {"values": [{}]}, "mark": {"type": "point", "opacity": 0}},
        {
          "width": 225, "height": 178,
          "data": {"name": "dens"},
          "transform": [{"filter": "datum.trait == 'FP'"}],
          "mark": {"type": "area", "stroke": "black", "strokeWidth": 1.4, "fillOpacity": 0.5, "interpolate": "monotone", "clip": true},
          "encoding": {
            "x": {"field": "x", "type": "quantitative", "title": "FP", "scale": {"domain": [2.69, 10.45], "nice": false, "zero": false},
                  "axis": {"values": [3,4,5,6,7,8,9,10], "labelExpr": "datum.value % 2 == 0 ? format(datum.value, 'd') : ''",
                           "tickOpacity": {"condition": {"test": "datum.value % 2 == 0", "value": 1}, "value": 0},
                           "gridWidth": {"condition": {"test": "datum.value % 2 == 0", "value": 2}, "value": 1}}},
            "y": {"field": "y", "type": "quantitative", "stack": null, "title": null, "scale": {"domain": [-0.0195, 0.4095], "nice": false, "zero": false},
                  "axis": {"values": [0,0.05,0.1,0.15,0.2,0.25,0.3,0.35,0.4],
                           "labelExpr": "round(datum.value*20) % 2 == 0 ? format(datum.value, '.1f') : ''",
                           "tickOpacity": {"condition": {"test": "round(datum.value*20) % 2 == 0", "value": 1}, "value": 0},
                           "gridWidth": {"condition": {"test": "round(datum.value*20) % 2 == 0", "value": 2}, "value": 1}}},
            "color": {"field": "milk", "type": "nominal", "title": "Milk", "scale": {"domain": ["Non-Coagulating", "Coagulating"], "range": ["#F8766D", "#00BFC4"]},
                      "legend": {"orient": "none", "legendX": 313, "legendY": 552, "symbolType": "square", "symbolSize": 729, "symbolStrokeColor": "black", "symbolStrokeWidth": 2.5, "labelOffset": 12, "rowPadding": -10, "titlePadding": 5,
                                 "encode": {"symbols": {"update": {"fillOpacity": {"value": 0.5}, "opacity": {"value": 1}, "strokeOpacity": {"value": 1}, "stroke": {"value": "black"}}}}}}
          }
        },
        {"width": 78, "height": 1, "view": {"fill": "transparent", "stroke": "transparent"}, "data": {"values": [{}]}, "mark": {"type": "point", "opacity": 0}},
        {
          "width": 218, "height": 178,
          "data": {"name": "dens"},
          "transform": [{"filter": "datum.trait == 'LP'"}],
          "mark": {"type": "area", "stroke": "black", "strokeWidth": 1.4, "fillOpacity": 0.5, "interpolate": "monotone", "clip": true},
          "encoding": {
            "x": {"field": "x", "type": "quantitative", "title": "LP", "scale": {"domain": [3.37, 5.657], "nice": false, "zero": false},
                  "axis": {"values": [3.5,3.75,4,4.25,4.5,4.75,5,5.25,5.5], "labelExpr": "round(datum.value*4) % 2 == 0 ? format(datum.value, '.1f') : ''",
                           "tickOpacity": {"condition": {"test": "round(datum.value*4) % 2 == 0", "value": 1}, "value": 0},
                           "gridWidth": {"condition": {"test": "round(datum.value*4) % 2 == 0", "value": 2}, "value": 1}}},
            "y": {"field": "y", "type": "quantitative", "stack": null, "title": null, "scale": {"domain": [-0.115, 2.4], "nice": false, "zero": false},
                  "axis": {"values": [0,0.25,0.5,0.75,1,1.25,1.5,1.75,2,2.25],
                           "labelExpr": "round(datum.value*4) % 2 == 0 ? format(datum.value, '.1f') : ''",
                           "tickOpacity": {"condition": {"test": "round(datum.value*4) % 2 == 0", "value": 1}, "value": 0},
                           "gridWidth": {"condition": {"test": "round(datum.value*4) % 2 == 0", "value": 2}, "value": 1}}},
            "color": {"field": "milk", "type": "nominal", "title": "Milk", "scale": {"domain": ["Non-Coagulating", "Coagulating"], "range": ["#F8766D", "#00BFC4"]},
                      "legend": {"orient": "none", "legendX": 313, "legendY": 552, "symbolType": "square", "symbolSize": 729, "symbolStrokeColor": "black", "symbolStrokeWidth": 2.5, "labelOffset": 12, "rowPadding": -10, "titlePadding": 5,
                                 "encode": {"symbols": {"update": {"fillOpacity": {"value": 0.5}, "opacity": {"value": 1}, "strokeOpacity": {"value": 1}, "stroke": {"value": "black"}}}}}}
          }
        }
      ]
    },
    {
      "bounds": "flush",
      "spacing": 0,
      "hconcat": [
        {"width": 10, "height": 1, "view": {"fill": "transparent", "stroke": "transparent"}, "data": {"values": [{}]}, "mark": {"type": "point", "opacity": 0}},
        {
          "width": 223, "height": 178,
          "data": {"name": "dens"},
          "transform": [{"filter": "datum.trait == 'PP'"}],
          "mark": {"type": "area", "stroke": "black", "strokeWidth": 1.4, "fillOpacity": 0.5, "interpolate": "monotone", "clip": true},
          "encoding": {
            "x": {"field": "x", "type": "quantitative", "title": "PP", "scale": {"domain": [3.36, 7.87], "nice": false, "zero": false},
                  "axis": {"values": [3.5,4,4.5,5,5.5,6,6.5,7,7.5], "labelExpr": "round(datum.value*2) % 2 == 0 ? format(datum.value, 'd') : ''",
                           "tickOpacity": {"condition": {"test": "round(datum.value*2) % 2 == 0", "value": 1}, "value": 0},
                           "gridWidth": {"condition": {"test": "round(datum.value*2) % 2 == 0", "value": 2}, "value": 1}}},
            "y": {"field": "y", "type": "quantitative", "stack": null, "title": "Density", "scale": {"domain": [-0.0475, 1.001], "nice": false, "zero": false},
                  "axis": {"values": [0,0.125,0.25,0.375,0.5,0.625,0.75,0.875,1], "titleX": -48.8, "titleBaseline": "alphabetic",
                           "labelExpr": "round(datum.value*8) % 2 == 0 ? format(datum.value, '.2f') : ''",
                           "tickOpacity": {"condition": {"test": "round(datum.value*8) % 2 == 0", "value": 1}, "value": 0},
                           "gridWidth": {"condition": {"test": "round(datum.value*8) % 2 == 0", "value": 2}, "value": 1}}},
            "color": {"field": "milk", "type": "nominal", "title": "Milk", "scale": {"domain": ["Non-Coagulating", "Coagulating"], "range": ["#F8766D", "#00BFC4"]},
                      "legend": {"orient": "none", "legendX": 313, "legendY": 552, "symbolType": "square", "symbolSize": 729, "symbolStrokeColor": "black", "symbolStrokeWidth": 2.5, "labelOffset": 12, "rowPadding": -10, "titlePadding": 5,
                                 "encode": {"symbols": {"update": {"fillOpacity": {"value": 0.5}, "opacity": {"value": 1}, "strokeOpacity": {"value": 1}, "stroke": {"value": "black"}}}}}}
          }
        },
        {"width": 70, "height": 1, "view": {"fill": "transparent", "stroke": "transparent"}, "data": {"values": [{}]}, "mark": {"type": "point", "opacity": 0}},
        {
          "width": 224, "height": 178,
          "data": {"name": "dens"},
          "transform": [{"filter": "datum.trait == 'DE'"}],
          "mark": {"type": "area", "stroke": "black", "strokeWidth": 1.4, "fillOpacity": 0.5, "interpolate": "monotone", "clip": true},
          "encoding": {
            "x": {"field": "x", "type": "quantitative", "title": "DE", "scale": {"domain": [11.54, 22.72], "nice": false, "zero": false},
                  "axis": {"values": [12.5,13.75,15,16.25,17.5,18.75,20,21.25,22.5], "labelExpr": "round(datum.value/1.25) % 2 == 0 ? format(datum.value, '.1f') : ''",
                           "tickOpacity": {"condition": {"test": "round(datum.value/1.25) % 2 == 0", "value": 1}, "value": 0},
                           "gridWidth": {"condition": {"test": "round(datum.value/1.25) % 2 == 0", "value": 2}, "value": 1}}},
            "y": {"field": "y", "type": "quantitative", "stack": null, "title": null, "scale": {"domain": [-0.0175, 0.366], "nice": false, "zero": false},
                  "axis": {"values": [0,0.05,0.1,0.15,0.2,0.25,0.3,0.35],
                           "labelExpr": "round(datum.value*20) % 2 == 0 ? format(datum.value, '.1f') : ''",
                           "tickOpacity": {"condition": {"test": "round(datum.value*20) % 2 == 0", "value": 1}, "value": 0},
                           "gridWidth": {"condition": {"test": "round(datum.value*20) % 2 == 0", "value": 2}, "value": 1}}},
            "color": {"field": "milk", "type": "nominal", "title": "Milk", "scale": {"domain": ["Non-Coagulating", "Coagulating"], "range": ["#F8766D", "#00BFC4"]},
                      "legend": {"orient": "none", "legendX": 313, "legendY": 552, "symbolType": "square", "symbolSize": 729, "symbolStrokeColor": "black", "symbolStrokeWidth": 2.5, "labelOffset": 12, "rowPadding": -10, "titlePadding": 5,
                                 "encode": {"symbols": {"update": {"fillOpacity": {"value": 0.5}, "opacity": {"value": 1}, "strokeOpacity": {"value": 1}, "stroke": {"value": "black"}}}}}}
          }
        },
        {"width": 66, "height": 1, "view": {"fill": "transparent", "stroke": "transparent"}, "data": {"values": [{}]}, "mark": {"type": "point", "opacity": 0}},
        {
          "width": 231, "height": 178,
          "data": {"name": "dens"},
          "transform": [{"filter": "datum.trait == 'pH'"}],
          "mark": {"type": "area", "stroke": "black", "strokeWidth": 1.4, "fillOpacity": 0.5, "interpolate": "monotone", "clip": true},
          "encoding": {
            "x": {"field": "x", "type": "quantitative", "title": "pH", "scale": {"domain": [6.118, 7.343], "nice": false, "zero": false},
                  "axis": {"values": [6.25,6.5,6.75,7,7.25], "labelExpr": "round(datum.value*4) % 2 == 0 ? format(datum.value, '.1f') : ''",
                           "tickOpacity": {"condition": {"test": "round(datum.value*4) % 2 == 0", "value": 1}, "value": 0},
                           "gridWidth": {"condition": {"test": "round(datum.value*4) % 2 == 0", "value": 2}, "value": 1}}},
            "y": {"field": "y", "type": "quantitative", "stack": null, "title": null, "scale": {"domain": [-0.197, 4.137], "nice": false, "zero": false},
                  "axis": {"values": [0,0.5,1,1.5,2,2.5,3,3.5,4],
                           "labelExpr": "round(datum.value*2) % 2 == 0 ? format(datum.value, 'd') : ''",
                           "tickOpacity": {"condition": {"test": "round(datum.value*2) % 2 == 0", "value": 1}, "value": 0},
                           "gridWidth": {"condition": {"test": "round(datum.value*2) % 2 == 0", "value": 2}, "value": 1}}},
            "color": {"field": "milk", "type": "nominal", "title": "Milk", "scale": {"domain": ["Non-Coagulating", "Coagulating"], "range": ["#F8766D", "#00BFC4"]},
                      "legend": {"orient": "none", "legendX": 313, "legendY": 552, "symbolType": "square", "symbolSize": 729, "symbolStrokeColor": "black", "symbolStrokeWidth": 2.5, "labelOffset": 12, "rowPadding": -10, "titlePadding": 5,
                                 "encode": {"symbols": {"update": {"fillOpacity": {"value": 0.5}, "opacity": {"value": 1}, "strokeOpacity": {"value": 1}, "stroke": {"value": "black"}}}}}}
          }
        }
      ]
    },
    {
      "width": 233, "height": 178,
      "data": {"name": "dens"},
      "transform": [{"filter": "datum.trait == 'logSCC'"}],
      "mark": {"type": "area", "stroke": "black", "strokeWidth": 1.4, "fillOpacity": 0.5, "interpolate": "monotone", "clip": true},
      "encoding": {
        "x": {"field": "x", "type": "quantitative", "title": "logSCC", "scale": {"domain": [0.867, 4.59], "nice": false, "zero": false},
              "axis": {"values": [1,1.5,2,2.5,3,3.5,4,4.5], "labelExpr": "round(datum.value*2) % 2 == 0 ? format(datum.value, 'd') : ''",
                       "tickOpacity": {"condition": {"test": "round(datum.value*2) % 2 == 0", "value": 1}, "value": 0},
                       "gridWidth": {"condition": {"test": "round(datum.value*2) % 2 == 0", "value": 2}, "value": 1}}},
        "y": {"field": "y", "type": "quantitative", "stack": null, "title": "Density", "scale": {"domain": [-0.057, 1.192], "nice": false, "zero": false},
              "axis": {"values": [0,0.15,0.3,0.45,0.6,0.75,0.9,1.05,1.19], "titleX": -38.8, "titleBaseline": "alphabetic",
                       "labelExpr": "datum.value > 1.1 ? ' ' : (round(datum.value/0.15) % 2 == 0 ? format(datum.value, '.1f') : '')",
                       "tickOpacity": {"condition": {"test": "datum.value < 1.1 && round(datum.value/0.15) % 2 == 0", "value": 1}, "value": 0},
                       "gridOpacity": {"condition": {"test": "datum.value > 1.1", "value": 0}, "value": 1},
                       "gridWidth": {"condition": {"test": "round(datum.value/0.15) % 2 == 0", "value": 2}, "value": 1}}},
        "color": {"field": "milk", "type": "nominal", "title": "Milk", "scale": {"domain": ["Non-Coagulating", "Coagulating"], "range": ["#F8766D", "#00BFC4"]},
                  "legend": {"orient": "none", "legendX": 313, "legendY": 552, "symbolType": "square", "symbolSize": 729, "symbolStrokeColor": "black", "symbolStrokeWidth": 2.5, "labelOffset": 12, "rowPadding": -10, "titlePadding": 5,
                             "encode": {"symbols": {"update": {"fillOpacity": {"value": 0.5}, "opacity": {"value": 1}, "strokeOpacity": {"value": 1}, "stroke": {"value": "black"}}}}}}
      }
    }
  ],
  "spacing": 13,
  "config": {
    "font": "Liberation Sans",
    "view": {"fill": "#EBEBEB", "stroke": null},
    "axis": {"domain": false, "grid": true, "gridColor": "#FFFFFF", "tickColor": "#333333", "tickWidth": 1.6, "tickSize": 5,
             "labelColor": "#4D4D4D", "labelFontSize": 14.5, "labelPadding": 3, "labelOverlap": false, "labelFlush": false,
             "titleFontSize": 18, "titleFontWeight": "normal", "titleColor": "#000000", "titlePadding": 2},
    "axisX": {"labelPadding": 4},
    "legend": {"labelFontSize": 15, "labelColor": "#000000", "titleFontSize": 19, "titleFontWeight": "normal", "titleColor": "#000000"},
    "title": {"fontSize": 21, "fontWeight": "normal", "color": "#000000", "anchor": "middle", "offset": 10}
  }
}
